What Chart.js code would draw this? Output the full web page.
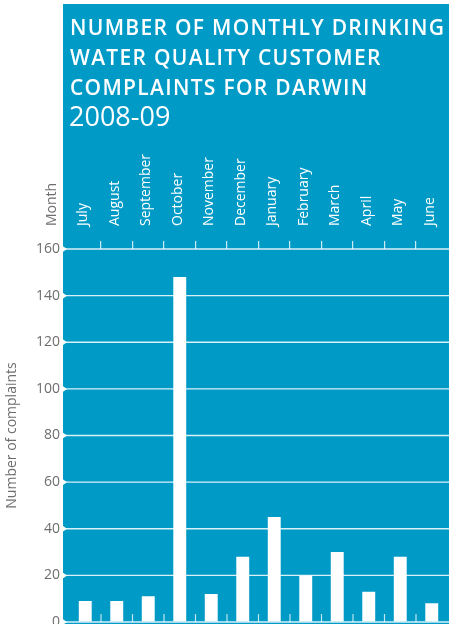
<!DOCTYPE html>
<html>
<head>
<meta charset="utf-8">
<script src="https://cdn.jsdelivr.net/npm/chart.js@4/dist/chart.umd.min.js"></script>
<style>
html, body { margin: 0; padding: 0; background: #fff; }
#wrap { width: 449px; height: 624px; position: relative; }
</style>
</head>
<body>
<div id="wrap"><canvas id="myChart"></canvas></div>
<script>
// Dados do gráfico
var months = ['July', 'August', 'September', 'October', 'November', 'December',
              'January', 'February', 'March', 'April', 'May', 'June'];
var complaints = [9, 9, 11, 148, 12, 28, 45, 20, 30, 13, 28, 8];
var yMin = 0, yMax = 160, yStep = 20;
var titleLines = ['NUMBER OF MONTHLY DRINKING', 'WATER QUALITY CUSTOMER', 'COMPLAINTS FOR DARWIN'];
var titleYear = '2008-09';
var xTitle = 'Month';
var yTitle = 'Number of complaints';

var blue = '#009ac7';
var grey = '#6e6e6e';
var fontFamily = '"Open Sans", "DejaVu Sans", sans-serif';

// Fundo azul, título e rótulo "Month"
var backdrop = {
    id: 'backdrop',
    beforeDraw: function(chart) {
        var c = chart.ctx;
        c.save();
        c.fillStyle = '#fff';
        c.fillRect(0, 0, chart.width, chart.height);
        c.fillStyle = blue;
        c.fillRect(63, 4, chart.width - 63, chart.height - 4);

        c.fillStyle = '#fff';
        c.textAlign = 'left';
        c.textBaseline = 'alphabetic';
        c.font = '600 21px ' + fontFamily;
        c.letterSpacing = '1.3px';
        titleLines.forEach(function(t, i) {
            c.fillText(t, 70, 35 + i * 30);
        });
        c.font = '400 27px ' + fontFamily;
        c.letterSpacing = '0px';
        c.fillText(titleYear, 69, 126);

        c.translate(52, 226);
        c.rotate(-Math.PI / 2);
        c.fillStyle = grey;
        c.font = '400 14px ' + fontFamily;
        c.textBaseline = 'middle';
        c.fillText(xTitle, 0, 0);
        c.restore();
    },
    beforeDatasetsDraw: function(chart) {
        var c = chart.ctx;
        var ys = chart.scales.y;
        var xs = chart.scales.x;
        var area = chart.chartArea;
        c.save();
        // linhas de grade sobre toda a caixa
        c.strokeStyle = 'rgba(255,255,255,0.85)';
        c.lineWidth = 1.3;
        ys.ticks.forEach(function(t) {
            var y = ys.getPixelForValue(t.value);
            c.beginPath();
            c.moveTo(63, y);
            c.lineTo(chart.width, y);
            c.stroke();
            c.fillStyle = '#fff';
            c.beginPath();
            c.moveTo(62, y - 3.5);
            c.lineTo(67, y);
            c.lineTo(62, y + 3.5);
            c.closePath();
            c.fill();
        });
        // marcas inferiores entre os meses
        c.strokeStyle = 'rgba(255,255,255,0.75)';
        c.lineWidth = 1.2;
        for (var i = 0; i < months.length - 1; i++) {
            var x = (xs.getPixelForValue(i) + xs.getPixelForValue(i + 1)) / 2;
            c.beginPath();
            c.moveTo(x, area.bottom);
            c.lineTo(x, area.bottom - 8);
            c.stroke();
        }
        c.restore();
    }
};

var ctx = document.getElementById('myChart').getContext('2d');
var myChart = new Chart(ctx, {
    type: 'bar',
    data: {
        labels: months,
        datasets: [{
            label: yTitle,
            data: complaints,
            backgroundColor: '#ffffff',
            borderWidth: 0,
            categoryPercentage: 1,
            barPercentage: 0.41
        }]
    },
    options: {
        responsive: true,
        maintainAspectRatio: false,
        animation: false,
        layout: { padding: { left: 0, right: 1.5, top: 0, bottom: 2 } },
        plugins: {
            legend: { display: false },
            tooltip: { enabled: false }
        },
        scales: {
            x: {
                position: 'top',
                afterFit: function(s) {
                    s.height = 249;
                    s.paddingLeft = 0;
                    s.paddingRight = 0;
                },
                border: { display: false },
                grid: {
                    drawOnChartArea: false,
                    drawTicks: true,
                    tickLength: 8,
                    // só as marcas entre os meses
                    color: function(gc) {
                        return (gc.type === 'tick' && gc.index > 0) ? 'rgba(255,255,255,0.8)' : 'rgba(0,0,0,0)';
                    },
                    lineWidth: 1.2
                },
                ticks: {
                    color: '#fff',
                    font: { family: fontFamily, size: 14 },
                    minRotation: 90,
                    maxRotation: 90,
                    autoSkip: false,
                    padding: 15,
                    labelOffset: 15
                }
            },
            y: {
                min: yMin,
                max: yMax,
                afterFit: function(s) {
                    s.width = 69.5;
                    s.paddingTop = 0;
                    s.paddingBottom = 0;
                },
                border: { display: false },
                grid: { drawOnChartArea: false, drawTicks: false },
                ticks: {
                    stepSize: yStep,
                    color: grey,
                    font: { family: fontFamily, size: 14 },
                    padding: 9.5
                },
                title: {
                    display: true,
                    text: yTitle,
                    color: grey,
                    font: { family: fontFamily, size: 14 },
                    padding: { top: 4, bottom: 0 }
                }
            }
        }
    },
    plugins: [backdrop]
});
</script>
</body>
</html>
